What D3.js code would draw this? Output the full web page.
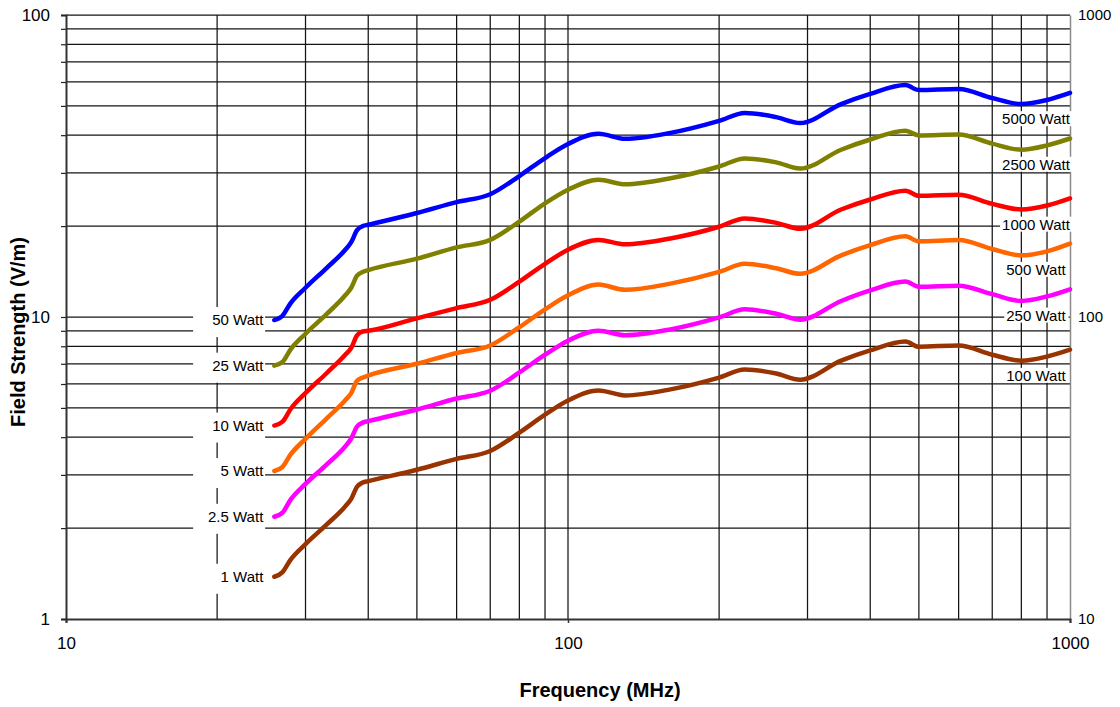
<!DOCTYPE html>
<html>
<head>
<meta charset="utf-8">
<script src="https://cdn.jsdelivr.net/npm/d3@7"></script>
<style>
  body { margin: 0; background: #fff; }
  svg { display: block; }
  text { font-family: "Liberation Sans", Arial, sans-serif; fill: #000; }
</style>
</head>
<body>
<svg id="chart" width="1120" height="707"></svg>
<script>
// Frequency sample points (MHz)
const frequencies = [26, 27, 28, 30, 33, 36, 37, 38, 39, 40, 50, 60, 70, 80, 90, 100,
  115, 130, 160, 200, 225, 260, 290, 350, 400, 470, 500, 600, 700, 800, 900, 1000];

// Field strength (V/m) per transmitter power, left-axis reading
const watt50 = [9.77, 10.1, 11.1, 12.5, 14.5, 16.7, 17.7, 19.4, 20.0, 20.2, 22.1, 24.0, 25.5, 29.3, 33.6, 37.4,
  40.4, 38.9, 40.7, 44.6, 47.4, 45.9, 43.9, 50.7, 54.8, 58.6, 56.4, 56.9, 53.1, 50.7, 52.3, 55.2];
const watt25 = [6.9, 7.1, 7.8, 8.8, 10.2, 11.8, 12.5, 13.7, 14.1, 14.3, 15.6, 17.0, 18.0, 20.7, 23.8, 26.4,
  28.5, 27.5, 28.8, 31.5, 33.5, 32.5, 31.0, 35.8, 38.7, 41.4, 39.9, 40.2, 37.5, 35.8, 37.0, 39.0];
const watt10 = [4.37, 4.5, 4.95, 5.6, 6.5, 7.5, 7.9, 8.7, 8.95, 9.0, 9.9, 10.7, 11.4, 13.1, 15.0, 16.7,
  18.0, 17.4, 18.2, 19.9, 21.2, 20.5, 19.6, 22.7, 24.5, 26.2, 25.2, 25.4, 23.7, 22.7, 23.4, 24.7];
const watt5 = [3.09, 3.19, 3.5, 3.95, 4.6, 5.3, 5.6, 6.15, 6.3, 6.4, 7.0, 7.6, 8.05, 9.25, 10.6, 11.8,
  12.8, 12.3, 12.9, 14.1, 15.0, 14.5, 13.9, 16.0, 17.3, 18.5, 17.8, 18.0, 16.8, 16.0, 16.5, 17.5];
const watt2_5 = [2.18, 2.25, 2.48, 2.8, 3.24, 3.73, 3.96, 4.34, 4.47, 4.52, 4.94, 5.37, 5.7, 6.55, 7.5, 8.35,
  9.0, 8.7, 9.1, 9.97, 10.6, 10.25, 9.8, 11.3, 12.25, 13.1, 12.6, 12.7, 11.9, 11.3, 11.7, 12.35];
const watt1 = [1.38, 1.43, 1.57, 1.77, 2.05, 2.36, 2.5, 2.74, 2.83, 2.86, 3.12, 3.39, 3.6, 4.14, 4.75, 5.29,
  5.71, 5.5, 5.76, 6.3, 6.7, 6.5, 6.2, 7.17, 7.75, 8.29, 7.97, 8.05, 7.5, 7.17, 7.4, 7.8];

const seriesValues = [watt50, watt25, watt10, watt5, watt2_5, watt1];
const lowPowerLabels = ["50 Watt", "25 Watt", "10 Watt", "5 Watt", "2.5 Watt", "1 Watt"];
const highPowerLabels = ["5000 Watt", "2500 Watt", "1000 Watt", "500 Watt", "250 Watt", "100 Watt"];
const seriesColors = ["#0000FF", "#808000", "#FF0000", "#FF6600", "#FF00FF", "#993300"];

// Axis ticks
const xTickValues = [10, 100, 1000];
const xGridValues = [20, 30, 40, 50, 60, 70, 80, 90, 100, 200, 300, 400, 500, 600, 700, 800, 900];
const yLeftTickValues = [1, 2, 3, 4, 5, 6, 7, 8, 9, 10, 20, 30, 40, 50, 60, 70, 80, 90, 100];
const yLeftLabelValues = [1, 10, 100];
const yRightLabelValues = [10, 100, 1000];
const xTitle = "Frequency (MHz)";
const yTitle = "Field Strength (V/m)";

const svg = d3.select("#chart");
const margin = { left: 66, right: 50, top: 15, bottom: 88 };
const W = 1120, H = 707;

const x = d3.scaleLog().domain([10, 1000]).range([margin.left, W - margin.right]);
const y = d3.scaleLog().domain([1, 100]).range([H - margin.bottom, margin.top]);
const yRight = d3.scaleLog().domain([10, 1000]).range([H - margin.bottom, margin.top]);

const gridColor = "#141414";

// Grid
const grid = svg.append("g");
grid.selectAll("line.h").data(yLeftTickValues.filter(v => v > 1)).join("line")
  .attr("x1", x(10)).attr("x2", x(1000))
  .attr("y1", d => y(d)).attr("y2", d => y(d))
  .attr("stroke", gridColor).attr("stroke-width", 1.25);
grid.selectAll("line.v").data(xGridValues).join("line")
  .attr("x1", d => x(d)).attr("x2", d => x(d))
  .attr("y1", y(1)).attr("y2", y(100))
  .attr("stroke", gridColor).attr("stroke-width", 1.25);

// Left axis
const leftAxis = d3.axisLeft(y).tickValues(yLeftTickValues)
  .tickFormat(d => yLeftLabelValues.includes(d) ? d3.format("d")(d) : "")
  .tickSize(5).tickPadding(11);
const gl = svg.append("g").attr("transform", `translate(${x(10)},0)`).call(leftAxis);
gl.select(".domain").attr("stroke", "#333").attr("stroke-width", 2);
gl.selectAll(".tick line").attr("stroke", "#222").attr("stroke-width", 1.2);
gl.selectAll(".tick text").attr("font-size", 17).attr("fill", "#000");

// Right axis
const rightAxis = d3.axisRight(yRight).tickValues(yRightLabelValues)
  .tickFormat(d3.format("d")).tickSize(0).tickPadding(8);
const gr = svg.append("g").attr("transform", `translate(${x(1000)},0)`).call(rightAxis);
gr.select(".domain").attr("stroke", "#8a8a8a").attr("stroke-width", 1.5);
gr.selectAll(".tick text").attr("font-size", 15).attr("fill", "#000");

// Bottom axis
const bottomAxis = d3.axisBottom(x).tickValues(xTickValues)
  .tickFormat(d3.format("d")).tickSize(4).tickPadding(14);
const gb = svg.append("g").attr("transform", `translate(0,${y(1)})`).call(bottomAxis);
gb.select(".domain").attr("stroke", "#333").attr("stroke-width", 2);
gb.selectAll(".tick line").attr("stroke", "#333").attr("stroke-width", 1.5);
gb.selectAll(".tick text").attr("font-size", 17).attr("fill", "#000");

// Series
const line = d3.line()
  .x(d => x(d[0])).y(d => y(d[1]))
  .curve(d3.curveMonotoneX);

const series = seriesValues.map((vals, i) => ({
  points: frequencies.map((f, k) => [f, vals[k]]),
  color: seriesColors[i],
  low: lowPowerLabels[i],
  high: highPowerLabels[i]
}));

svg.append("g").selectAll("path").data(series).join("path")
  .attr("d", d => line(d.points))
  .attr("fill", "none")
  .attr("stroke", d => d.color)
  .attr("stroke-width", 4.5)
  .attr("stroke-linecap", "round")
  .attr("stroke-linejoin", "round");

// Low-power labels at the start of each curve (white box behind)
const lowG = svg.append("g");
series.forEach(s => {
  const p0 = s.points[0];
  const tx = x(p0[0]) - 11, ty = y(p0[1]);
  const g = lowG.append("g");
  const t = g.append("text").attr("x", tx).attr("y", ty).attr("dy", "0.35em")
    .attr("text-anchor", "end").attr("font-size", 15).text(s.low);
  const bb = t.node().getBBox();
  g.insert("rect", "text")
    .attr("x", bb.x + bb.width - 71).attr("y", ty - 13)
    .attr("width", 72).attr("height", 30).attr("fill", "#fff");
});

// High-power labels near the right end of each curve
const highG = svg.append("g");
series.forEach(s => {
  const pN = s.points[s.points.length - 1];
  const tx = 1036, ty = y(pN[1]) + 26;
  const g = highG.append("g");
  const t = g.append("text").attr("x", tx).attr("y", ty).attr("dy", "0.35em")
    .attr("text-anchor", "middle").attr("font-size", 15).text(s.high);
  const bb = t.node().getBBox();
  g.insert("rect", "text")
    .attr("x", bb.x - 2).attr("y", bb.y + 1)
    .attr("width", bb.width + 4).attr("height", bb.height - 2).attr("fill", "#fff");
});

// Axis titles
svg.append("text").attr("x", 600).attr("y", 697).attr("text-anchor", "middle")
  .attr("font-size", 20).attr("font-weight", "bold").text(xTitle);
svg.append("text").attr("transform", "translate(25,332) rotate(-90)").attr("text-anchor", "middle")
  .attr("font-size", 20).attr("font-weight", "bold").text(yTitle);
</script>
</body>
</html>
